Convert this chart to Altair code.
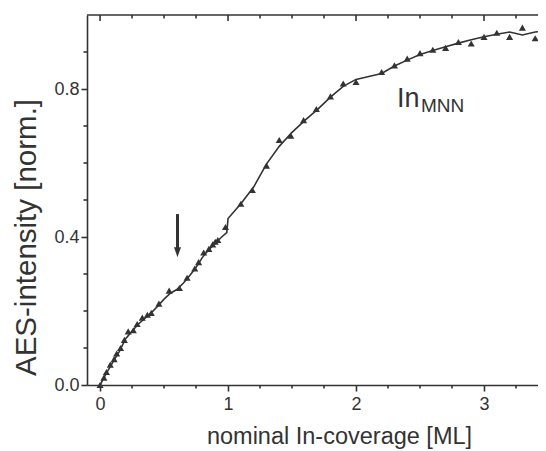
import altair as alt
import pandas as pd

# measured data points (triangles)
pt_x = [0.0, 0.03, 0.05, 0.08, 0.11, 0.13, 0.16, 0.19, 0.22, 0.26, 0.29, 0.33, 0.37, 0.40,
        0.46, 0.54, 0.62, 0.68, 0.74, 0.77, 0.81, 0.85, 0.88, 0.90, 0.92, 0.98, 1.10, 1.19,
        1.30, 1.40, 1.49, 1.59, 1.69, 1.80, 1.90, 2.00, 2.20, 2.30, 2.40, 2.50, 2.60, 2.70,
        2.80, 2.90, 3.00, 3.10, 3.20, 3.30, 3.40]
pt_y = [0.0, 0.02, 0.035, 0.055, 0.07, 0.085, 0.10, 0.122, 0.145, 0.148, 0.165, 0.182, 0.19, 0.195,
        0.22, 0.255, 0.262, 0.29, 0.315, 0.332, 0.358, 0.368, 0.38, 0.387, 0.392, 0.427, 0.49, 0.527,
        0.593, 0.662, 0.674, 0.716, 0.746, 0.78, 0.815, 0.819, 0.846, 0.864, 0.882, 0.897, 0.906, 0.911,
        0.927, 0.923, 0.941, 0.952, 0.941, 0.966, 0.937]

# fitted curve
line_x = [0, 0.05, 0.1, 0.15, 0.2, 0.25, 0.3, 0.35, 0.4, 0.45, 0.5, 0.55, 0.6, 0.65, 0.7, 0.75,
          0.8, 0.85, 0.9, 0.95, 0.99, 1.0, 1.1, 1.2, 1.3, 1.4, 1.5, 1.6, 1.7, 1.8, 1.9, 2.0,
          2.2, 2.3, 2.4, 2.5, 2.6, 2.7, 2.8, 2.9, 3.0, 3.1, 3.2, 3.3, 3.4, 3.5]
line_y = [0, 0.032, 0.062, 0.09, 0.125, 0.145, 0.165, 0.18, 0.195, 0.213, 0.232, 0.248, 0.258,
          0.275, 0.295, 0.318, 0.345, 0.366, 0.383, 0.4, 0.412, 0.45, 0.49, 0.535, 0.597, 0.645,
          0.683, 0.715, 0.745, 0.778, 0.807, 0.826, 0.842, 0.862, 0.878, 0.893, 0.904, 0.914,
          0.924, 0.933, 0.941, 0.948, 0.954, 0.946, 0.954, 0.957]

# arrow marker and label
arrow_x = [0.605]
arrow_top = [0.462]
arrow_bottom = [0.37]
arrow_head = [0.359]
label_x = [2.32]
label_y = [0.752]

x_major = [0, 1, 2, 3]
x_minor = [0.25, 0.5, 0.75, 1.25, 1.5, 1.75, 2.25, 2.5, 2.75, 3.25]
y_major = [0.0, 0.4, 0.8]
y_minor = [0.1, 0.2, 0.3, 0.5, 0.6, 0.7, 0.9]

W, H = 461, 370
C = "#333333"
FONT = "Liberation Sans"
TW = 1.6

xs = alt.Scale(domain=[-0.102, 3.5], nice=False, zero=False)
ys = alt.Scale(domain=[0, 1], nice=False, zero=False)

AX = alt.Axis(values=x_major, tickSize=6, labelFontSize=18, labelPadding=4,
              title="nominal In-coverage [ML]", titleFontSize=23.5, titleX=252, titleY=51,
              titleBaseline="middle", titleAlign="center")
AY = alt.Axis(values=y_major, format=".1f", tickSize=6, labelFontSize=18, labelPadding=2,
              title="AES-intensity [norm.]", titleFontSize=29.5, titleX=-61, titleY=222,
              titleBaseline="middle", titleAlign="center", titleAngle=270)

pts = pd.DataFrame({"x": pt_x, "y": pt_y})
lin = pd.DataFrame({"x": line_x, "y": line_y})
arr = pd.DataFrame({"x": arrow_x, "y": arrow_top, "y2": arrow_bottom, "yh": arrow_head})
lab = pd.DataFrame({"x": label_x, "y": label_y})
xmaj = pd.DataFrame({"x": x_major})
xmin = pd.DataFrame({"x": x_minor})
ymaj = pd.DataFrame({"y": y_major})
ymin = pd.DataFrame({"y": y_minor})

X = alt.X("x:Q", scale=xs, axis=AX)
Y = alt.Y("y:Q", scale=ys, axis=AY)

line = alt.Chart(lin).mark_line(color=C, strokeWidth=1.6).encode(x=X, y=Y)

points = alt.Chart(pts).mark_point(shape="triangle-up", filled=True, color=C, opacity=1,
                                   size=50).encode(x=X, y=Y)

shaft = alt.Chart(arr).mark_rule(color=C, strokeWidth=3).encode(x=X, y=Y, y2="y2:Q")

head = alt.Chart(arr).mark_point(shape="M-0.7,-1L0.7,-1L0,1Z", filled=True, color=C,
                                 opacity=1, size=100).encode(
    x=X, y=alt.Y("yh:Q", scale=ys, axis=AY))

txt_in = alt.Chart(lab).mark_text(text="In", font=FONT, fontSize=27, color=C, align="left",
                                  baseline="alphabetic").encode(x=X, y=Y)
txt_sub = alt.Chart(lab).mark_text(text="MNN", font=FONT, fontSize=19, color=C, align="left",
                                   baseline="alphabetic", dx=24, dy=5).encode(x=X, y=Y)

# mirrored frame and ticks (inward on top / right, minor ticks outward on bottom / left)
top_line = alt.Chart(lab).mark_rule(color=C, strokeWidth=TW).encode(
    x=alt.value(0), x2=alt.value(W), y=alt.value(0))
top_major = alt.Chart(xmaj).mark_rule(color=C, strokeWidth=TW).encode(
    x=X, y=alt.value(0), y2=alt.value(6))
top_minor = alt.Chart(xmin).mark_rule(color=C, strokeWidth=TW).encode(
    x=X, y=alt.value(0), y2=alt.value(3.5))
bot_minor = alt.Chart(xmin).mark_rule(color=C, strokeWidth=TW).encode(
    x=X, y=alt.value(H), y2=alt.value(H + 3.5))
left_minor = alt.Chart(ymin).mark_rule(color=C, strokeWidth=TW).encode(
    y=Y, x=alt.value(0), x2=alt.value(-3.5))
right_major = alt.Chart(ymaj).mark_rule(color=C, strokeWidth=TW).encode(
    y=Y, x=alt.value(W), x2=alt.value(W - 6))
right_minor = alt.Chart(ymin).mark_rule(color=C, strokeWidth=TW).encode(
    y=Y, x=alt.value(W), x2=alt.value(W - 3))

chart = alt.layer(line, points, shaft, head, txt_in, txt_sub, top_line, top_major, top_minor,
                  bot_minor, left_minor, right_major, right_minor).properties(
    width=W, height=H,
    autosize=alt.AutoSizeParams(type="none"),
    padding={"left": 79, "top": 7, "right": -10, "bottom": 70},
).configure_view(stroke=None).configure_axis(
    domainColor=C, tickColor=C, labelColor=C, titleColor=C, domainWidth=TW, tickWidth=TW,
    labelFont=FONT, titleFont=FONT, titleFontWeight="normal", grid=False,
)

chart.save("out.html", embed_options={"renderer": "svg", "actions": False})
